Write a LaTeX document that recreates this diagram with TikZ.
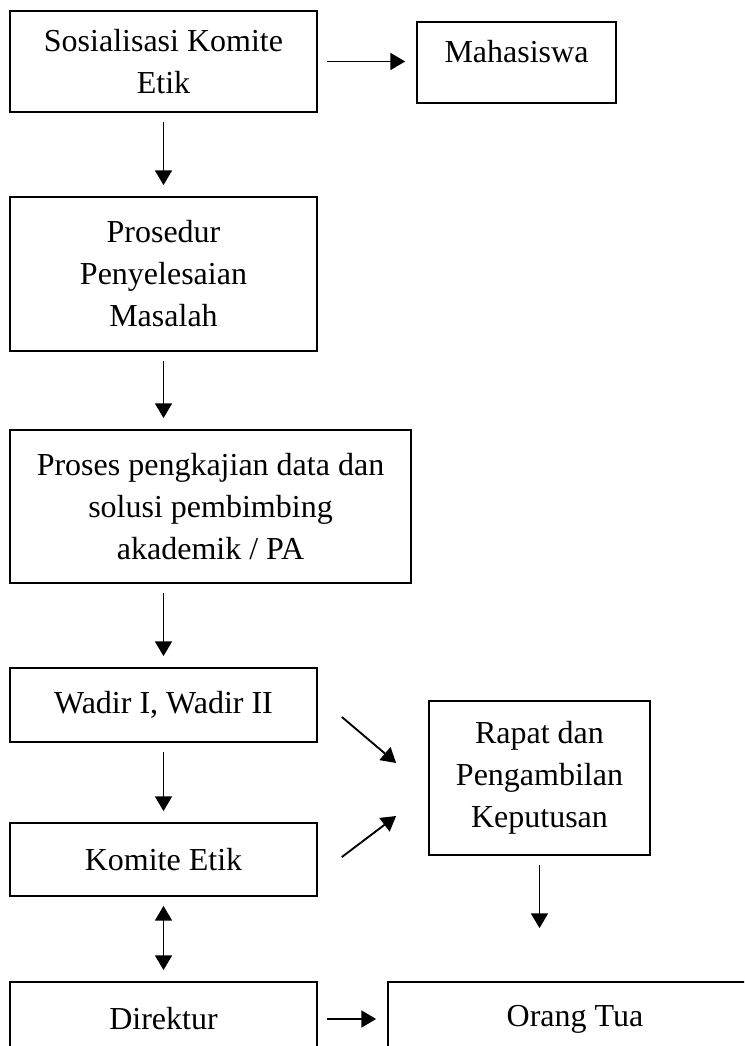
\documentclass[tikz,border=0pt]{standalone}
\usepackage{fontspec}
\setmainfont{Liberation Serif}
\usepackage{tikz}
\usetikzlibrary{arrows.meta}
\newlength{\px}
\setlength{\px}{0.375pt}

\begin{document}
\begin{tikzpicture}[x=0.375pt,y=-0.375pt,>={Triangle[length=5.5pt,width=6.3pt]}]
\tikzstyle{every node}+=[inner sep=0pt]
\tikzstyle{box}=[draw=black,line width=0.65pt,align=center,font=\fontsize{12pt}{15.75pt}\selectfont]
\tikzstyle{arr}=[black,line width=0.7pt,->,shorten <=9\px,shorten >=11\px]
\useasboundingbox (0,0) rectangle (744,1046);
\clip (0,0) rectangle (744,1046);
\node [box,minimum width=307\px,minimum height=101\px] (sosial) at (163.5,61.5) {Sosialisasi Komite\\Etik};
\node [box,minimum width=199\px,minimum height=81\px,text height=8pt,text depth=8pt] (mhs) at (516.5,62.5) {Mahasiswa};
\node [box,minimum width=307\px,minimum height=154\px] (prosedur) at (163.5,274) {Prosedur\\Penyelesaian\\Masalah};
\node [box,minimum width=401\px,minimum height=153\px] (proses) at (210.5,506.5) {Proses pengkajian data dan\\solusi pembimbing\\akademik / PA};
\node [box,minimum width=307\px,minimum height=74\px] (wadir) at (163.5,705) {Wadir I, Wadir II};
\node [box,minimum width=307\px,minimum height=73\px] (komite) at (163.5,859.5) {Komite Etik};
\node [box,minimum width=221\px,minimum height=154\px] (rapat) at (539.5,778) {Rapat dan\\Pengambilan\\Keputusan};
\node [box,minimum width=307\px,minimum height=74\px] (direktur) at (163.5,1019) {Direktur};
\node [box,minimum width=374\px,minimum height=74\px] (orang) at (575,1019) {Orang Tua};
\coordinate (wr) at ([shift={(24,12)}]wadir.east);
\coordinate (rw) at ([shift={(-32,-15)}]rapat.west);
\coordinate (kr) at ([shift={(24,-2.5)}]komite.east);
\coordinate (rk) at ([shift={(-32,38)}]rapat.west);
\draw [arr] (sosial.east) -- (sosial.east -| mhs.west);
\draw [arr] (sosial) -- (prosedur);
\draw [arr] (prosedur.south) -- (prosedur.south |- proses.north);
\draw [arr] (wadir.north |- proses.south) -- (wadir.north);
\draw [arr] (wadir) -- (komite);
\draw [arr,<->] (komite) -- (direktur);
\draw [arr,shorten <=0pt,shorten >=0pt] (wr) -- (rw);
\draw [arr,shorten <=0pt,shorten >=0pt] (kr) -- (rk);
\draw [arr,shorten >=53\px] (rapat.south) -- (rapat.south |- orang.north);
\draw [arr] (direktur) -- (orang);
\end{tikzpicture}
\end{document}
